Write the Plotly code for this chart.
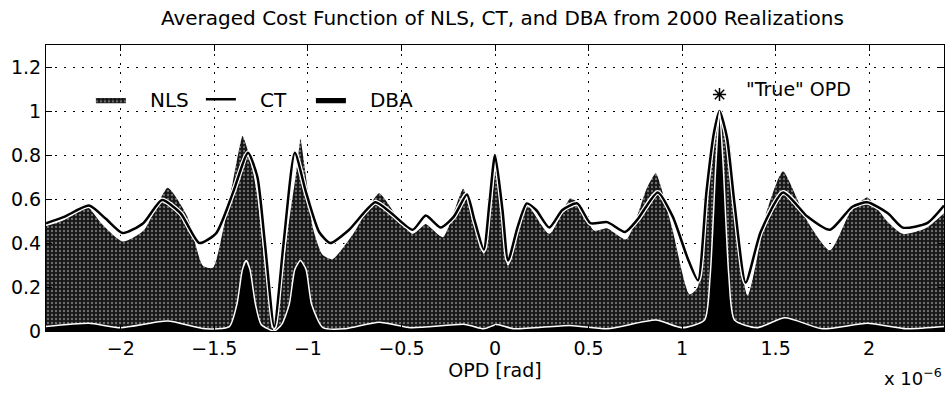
import numpy as np
import plotly.graph_objects as go

# ---- data (x in units of 1e-6 rad) ----
ct_x = [-2.40, -2.30, -2.17, -2.08, -1.99, -1.88, -1.78, -1.68, -1.58, -1.49, -1.40, -1.32, -1.27,
        -1.23, -1.18, -1.13, -1.07, -1.01, -0.94, -0.88, -0.78, -0.64, -0.56, -0.44, -0.37, -0.29,
        -0.22, -0.15, -0.11, -0.06, -0.03, 0.00, 0.04, 0.07, 0.12, 0.17, 0.22, 0.29, 0.36, 0.44,
        0.51, 0.60, 0.695, 0.76, 0.87, 0.95, 1.03, 1.085, 1.13, 1.17, 1.20, 1.24, 1.28, 1.34,
        1.42, 1.54, 1.67, 1.79, 1.91, 1.99, 2.10, 2.18, 2.31, 2.40]
ct_y = [0.49, 0.52, 0.57, 0.51, 0.445, 0.49, 0.595, 0.535, 0.40, 0.445, 0.63, 0.81, 0.70,
        0.40, 0.02, 0.40, 0.81, 0.63, 0.45, 0.40, 0.46, 0.585, 0.54, 0.46, 0.525, 0.47,
        0.52, 0.62, 0.505, 0.37, 0.58, 0.80, 0.55, 0.32, 0.47, 0.58, 0.55, 0.47, 0.55, 0.58,
        0.49, 0.495, 0.45, 0.505, 0.63, 0.52, 0.33, 0.23, 0.63, 0.90, 1.00, 0.88, 0.58, 0.22,
        0.45, 0.63, 0.52, 0.46, 0.565, 0.585, 0.535, 0.47, 0.49, 0.57]

nls_x = [-2.40, -2.30, -2.19, -2.10, -1.99, -1.88, -1.75, -1.64, -1.56, -1.51, -1.46, -1.41,
         -1.35, -1.31, -1.27, -1.22, -1.18, -1.14, -1.11, -1.07, -1.04, -1.00, -0.97, -0.92,
         -0.87, -0.76, -0.62, -0.52, -0.44, -0.37, -0.28, -0.17, -0.06, 0.01, 0.07, 0.17, 0.29,
         0.40, 0.455, 0.53, 0.60, 0.70, 0.81, 0.86, 0.95, 1.04, 1.08, 1.13, 1.17, 1.20, 1.26,
         1.30, 1.35, 1.45, 1.54, 1.67, 1.79, 1.90, 1.99, 2.10, 2.18, 2.30, 2.40]
nls_y = [0.48, 0.51, 0.58, 0.49, 0.41, 0.46, 0.655, 0.52, 0.30, 0.29, 0.45, 0.66,
         0.89, 0.80, 0.63, 0.25, 0.0, 0.25, 0.47, 0.70, 0.88, 0.66, 0.47, 0.35,
         0.33, 0.445, 0.63, 0.52, 0.445, 0.49, 0.43, 0.65, 0.355, 0.80, 0.30, 0.58, 0.445,
         0.605, 0.58, 0.46, 0.47, 0.42, 0.655, 0.72, 0.47, 0.17, 0.20, 0.63, 0.90, 1.00, 0.85,
         0.45, 0.165, 0.55, 0.73, 0.505, 0.37, 0.55, 0.61, 0.50, 0.445, 0.47, 0.54]

dba_x = [-2.40, -2.17, -2.00, -1.75, -1.55, -1.42, -1.38, -1.35, -1.33, -1.31, -1.28, -1.25,
         -1.18, -1.14, -1.10, -1.07, -1.04, -1.01, -0.98, -0.92, -0.80, -0.62, -0.45, -0.16,
         -0.06, 0.01, 0.10, 0.40, 0.60, 0.86, 1.00, 1.12, 1.15, 1.18, 1.20, 1.22, 1.25, 1.28,
         1.40, 1.55, 1.75, 1.99, 2.20, 2.40]
dba_y = [0.02, 0.035, 0.015, 0.045, 0.01, 0.02, 0.12, 0.28, 0.32, 0.28, 0.12, 0.03,
         0.0, 0.03, 0.12, 0.28, 0.32, 0.28, 0.12, 0.015, 0.01, 0.04, 0.015, 0.03,
         0.01, 0.03, 0.01, 0.025, 0.01, 0.05, 0.015, 0.05, 0.25, 0.75, 1.00, 0.75, 0.25, 0.05,
         0.015, 0.06, 0.01, 0.035, 0.01, 0.02]

true_opd_x = [1.20]
true_opd_y = [1.075]

x_ticks = [-2, -1.5, -1, -0.5, 0, 0.5, 1, 1.5, 2]
x_ticktext = ["\u22122", "\u22121.5", "\u22121", "\u22120.5", "0", "0.5", "1", "1.5", "2"]
y_ticks = [0, 0.2, 0.4, 0.6, 0.8, 1.0, 1.2]
y_ticktext = ["0", "0.2", "0.4", "0.6", "0.8", "1", "1.2"]

SCALE = 1e-6
FONT = "DejaVu Sans"
PAD = "\u00a0\u00a0\u00a0"

fig = go.Figure()

fig.add_trace(go.Scatter(
    x=np.array(nls_x) * SCALE, y=nls_y, name=PAD + "NLS", mode="lines",
    line=dict(color="white", width=1.5, shape="spline", smoothing=0.6),
    fill="tozeroy", fillcolor="#1a1a1a",
    fillpattern=dict(shape=".", fgcolor="#c8c8c8", bgcolor="#161616", size=4, solidity=0.28),
))
fig.add_trace(go.Scatter(
    x=np.array(ct_x) * SCALE, y=ct_y, mode="lines", showlegend=False, hoverinfo="skip",
    line=dict(color="white", width=5, shape="spline", smoothing=0.6),
))
fig.add_trace(go.Scatter(
    x=np.array(ct_x) * SCALE, y=ct_y, name=PAD + "CT", mode="lines",
    line=dict(color="black", width=2.5, shape="spline", smoothing=0.6),
))
fig.add_trace(go.Scatter(
    x=np.array(dba_x) * SCALE, y=dba_y, name=PAD + "DBA", mode="lines",
    line=dict(color="white", width=1.5, shape="spline", smoothing=0.6),
    fill="tozeroy", fillcolor="black",
))
fig.add_trace(go.Scatter(
    x=np.array(true_opd_x) * SCALE, y=true_opd_y, mode="markers", showlegend=False,
    marker=dict(symbol="asterisk-open", size=11, color="black",
                line=dict(color="black", width=1.5)),
))

fig.add_annotation(x=1.33 * SCALE, y=1.10, xref="x", yref="y", text="\"True\" OPD",
                   showarrow=False, xanchor="left", yanchor="middle",
                   font=dict(family=FONT, size=19, color="black"))
fig.add_annotation(x=1.0, y=-0.21, xref="paper", yref="paper", text="x 10<sup>\u22126</sup>",
                   showarrow=False, xanchor="right", yanchor="bottom",
                   font=dict(family=FONT, size=18, color="black"))

axis_common = dict(showline=True, linecolor="black", linewidth=1, mirror="ticks",
                   ticks="inside", ticklen=6, tickcolor="black", showgrid=True,
                   gridcolor="black", gridwidth=1, griddash="2px,7px", zeroline=False,
                   tickfont=dict(family=FONT, size=19, color="black"))

fig.update_xaxes(range=[-2.4e-6, 2.4e-6], tickvals=[v * SCALE for v in x_ticks],
                 ticktext=x_ticktext,
                 title=dict(text="OPD [rad]", font=dict(family=FONT, size=19, color="black"),
                            standoff=4),
                 **axis_common)
fig.update_yaxes(range=[0, 1.3], tickvals=y_ticks, ticktext=y_ticktext, **axis_common)

fig.update_layout(
    width=948, height=394,
    margin=dict(l=46, r=4, t=45, b=63),
    paper_bgcolor="white", plot_bgcolor="white",
    title=dict(text="Averaged Cost Function of NLS, CT, and DBA from 2000 Realizations",
               x=0.53, xanchor="center", y=0.955, yanchor="middle",
               font=dict(family=FONT, size=20, color="black")),
    showlegend=True,
    legend=dict(orientation="h", x=0.05, y=0.81, xanchor="left", yanchor="middle",
                bgcolor="rgba(0,0,0,0)", borderwidth=0,
                font=dict(family=FONT, size=20, color="black"),
                entrywidth=65, entrywidthmode="pixels", itemwidth=30),
)

fig.write_html("out.html")
